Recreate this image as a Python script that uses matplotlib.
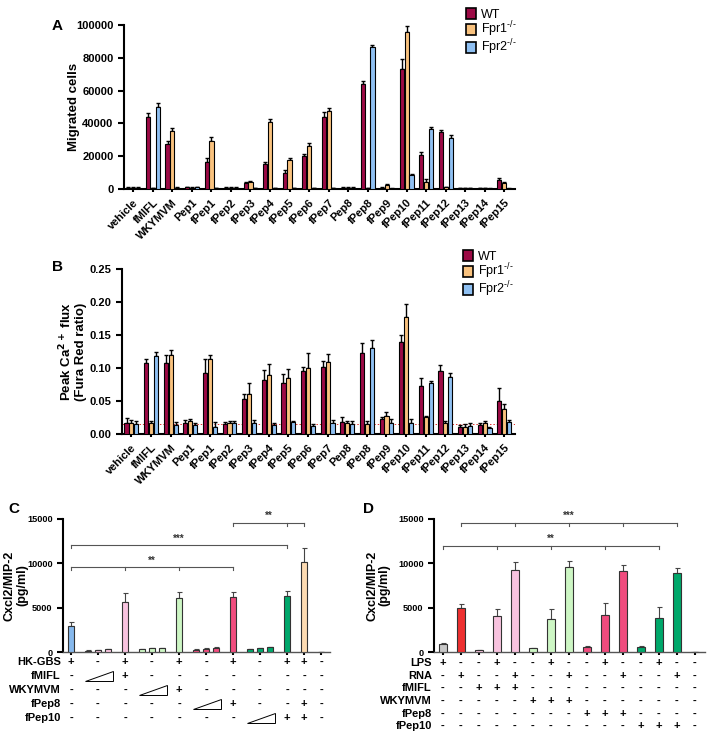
import matplotlib.pyplot as plt
import numpy as np
from matplotlib.patches import Patch, Polygon
from matplotlib.transforms import blended_transform_factory

plt.rcParams['font.family'] = ['Liberation Sans', 'DejaVu Sans']
plt.rcParams['font.weight'] = 'bold'
plt.rcParams['axes.labelweight'] = 'bold'
plt.rcParams['axes.linewidth'] = 1.5

# ---- data, panels A and B ----
peptides = ["vehicle", "fMIFL", "WKYMVM", "Pep1", "fPep1", "fPep2", "fPep3",
            "fPep4", "fPep5", "fPep6", "fPep7", "Pep8", "fPep8", "fPep9",
            "fPep10", "fPep11", "fPep12", "fPep13", "fPep14", "fPep15"]
genotypes = ["WT", "Fpr1$^{\\mathregular{\u2010/\u2010}}$",
             "Fpr2$^{\\mathregular{\u2010/\u2010}}$"]
geno_colors = ["#9c0a45", "#f9c27e", "#8fc0f2"]

mig_wt = [800, 44000, 27500, 1000, 16500, 800, 3800, 15500, 10000, 20000,
          44000, 800, 64000, 800, 73000, 21000, 34500, 700, 700, 5500]
mig_fpr1 = [800, 500, 35500, 800, 29500, 800, 4500, 41000, 17500, 26000,
            47500, 800, 500, 2500, 96000, 4500, 1000, 700, 500, 3500]
mig_fpr2 = [800, 50000, 800, 1000, 500, 800, 600, 500, 500, 700,
            700, 800, 86500, 300, 8500, 36500, 31000, 700, 300, 300]
mig_wt_err = [200, 2500, 2000, 300, 2500, 200, 500, 1000, 1800, 1500,
              2800, 200, 2000, 200, 6500, 1500, 1500, 200, 200, 1500]
mig_fpr1_err = [200, 200, 2000, 200, 2000, 200, 500, 1500, 1200, 2000,
                2000, 200, 200, 800, 3500, 1500, 300, 200, 200, 800]
mig_fpr2_err = [200, 2500, 200, 200, 200, 200, 200, 200, 200, 200,
                200, 200, 1500, 200, 800, 1500, 1800, 200, 200, 200]

ca_wt = [0.017, 0.108, 0.107, 0.017, 0.093, 0.015, 0.053, 0.082, 0.077, 0.095,
         0.101, 0.018, 0.122, 0.022, 0.140, 0.073, 0.096, 0.011, 0.013, 0.050]
ca_fpr1 = [0.017, 0.016, 0.119, 0.019, 0.113, 0.016, 0.061, 0.090, 0.085, 0.100,
           0.109, 0.016, 0.015, 0.027, 0.177, 0.025, 0.016, 0.011, 0.016, 0.038]
ca_fpr2 = [0.015, 0.118, 0.014, 0.014, 0.010, 0.016, 0.016, 0.013, 0.018, 0.012,
           0.016, 0.015, 0.130, 0.017, 0.017, 0.077, 0.087, 0.012, 0.009, 0.018]
ca_wt_err = [0.007, 0.005, 0.012, 0.004, 0.020, 0.003, 0.007, 0.015, 0.014, 0.007,
             0.009, 0.007, 0.016, 0.004, 0.010, 0.012, 0.008, 0.003, 0.003, 0.019]
ca_fpr1_err = [0.004, 0.004, 0.009, 0.004, 0.006, 0.004, 0.017, 0.016, 0.013, 0.023,
               0.012, 0.004, 0.004, 0.007, 0.020, 0.003, 0.004, 0.004, 0.004, 0.007]
ca_fpr2_err = [0.004, 0.006, 0.004, 0.003, 0.008, 0.004, 0.005, 0.004, 0.002, 0.003,
               0.005, 0.005, 0.012, 0.006, 0.005, 0.004, 0.005, 0.004, 0.002, 0.003]
ca_baseline = 0.015

# ---- data, panel C ----
# column kinds: "s" single bar, "t" three increasing doses
c_kinds = ["s", "t", "s", "t", "s", "t", "s", "t", "s", "s", "s"]
c_vals = [2900, 150, 200, 300, 5600, 350, 400, 450, 6100, 250, 350, 500,
          6200, 350, 450, 550, 6300, 10200, 30]
c_err = [450, 40, 40, 50, 1000, 40, 40, 50, 700, 40, 50, 60,
         550, 40, 50, 60, 550, 1500, 0]
c_colors = ["#86b8ec"] + ["#f8c3df"] * 4 + ["#cdf6c4"] * 4 + ["#f04c7e"] * 4 \
    + ["#00a86b"] * 4 + ["#fddbb2", "#ffffff"]
c_row_names = ["HK-GBS", "fMIFL", "WKYMVM", "fPep8", "fPep10"]
c_rows = [["+", "-", "+", "-", "+", "-", "+", "-", "+", "+", "-"],
          ["-", "w", "+", "-", "-", "-", "-", "-", "-", "-", "-"],
          ["-", "-", "-", "w", "+", "-", "-", "-", "-", "-", "-"],
          ["-", "-", "-", "-", "-", "w", "+", "-", "-", "+", "-"],
          ["-", "-", "-", "-", "-", "-", "-", "w", "+", "+", "-"]]
# brackets: bar indices, height, stars
c_brackets = [([0, 4, 8, 12], 9600, "**"),
              ([0, 16], 12100, "***"),
              ([12, 16, 17], 14600, "**")]

# ---- data, panel D ----
d_vals = [900, 5000, 200, 4100, 9200, 450, 3700, 9600, 600, 4200, 9100,
          600, 3800, 8900, 40]
d_err = [100, 400, 50, 800, 900, 50, 1100, 650, 50, 1350, 700, 50, 1300, 550, 0]
d_colors = ["#c8c8c8", "#ee3030"] + ["#f8c3df"] * 3 + ["#cdf6c4"] * 3 \
    + ["#f04c7e"] * 3 + ["#00a86b"] * 3 + ["#ffffff"]
d_row_names = ["LPS", "RNA", "fMIFL", "WKYMVM", "fPep8", "fPep10"]
d_rows = [list("+--+--+--+--+--"),
          list("-+--+--+--+--+-"),
          list("--+++----------"),
          list("-----+++-------"),
          list("--------+++----"),
          list("-----------+++-")]
d_brackets = [([0, 3, 6, 9, 12], 12000, "**"),
              ([1, 4, 7, 10, 13], 14600, "***")]

fig = plt.figure(figsize=(7.09, 7.34), dpi=100)


def style(ax):
    for s in ["top", "right"]:
        ax.spines[s].set_visible(False)
    ax.tick_params(width=1.5, length=4, labelsize=8)
    for t in ax.get_yticklabels():
        t.set_fontweight("bold")


def grouped(ax, vals, errs, ylim, ylabel):
    x = np.arange(len(peptides))
    for i in range(3):
        xi = x + (i - 1) * 0.25
        ax.bar(xi, vals[i], width=0.21, color=geno_colors[i],
               edgecolor="black", linewidth=0.8, zorder=3)
        ax.errorbar(xi, vals[i], yerr=[np.zeros(len(x)), errs[i]], fmt="none",
                    ecolor="black", elinewidth=1.0, capsize=1.5, capthick=1.0,
                    zorder=2)
    ax.set_xlim(-0.48, 19.55)
    ax.set_ylim(*ylim)
    ax.set_xticks(x)
    ax.set_xticklabels(peptides, rotation=45, ha="right", rotation_mode="anchor",
                       fontsize=8.2, fontweight="bold")
    ax.set_ylabel(ylabel, fontsize=9.5, fontweight="bold", linespacing=1.1)
    style(ax)
    ax.tick_params(axis="x", length=2.5)
    hs = [Patch(facecolor=c, edgecolor="black", linewidth=1.2) for c in geno_colors]
    return hs


def legend(hs, x, y):
    fig.legend(hs, genotypes, loc="upper left", bbox_to_anchor=(x / 709, 1 - y / 734),
               frameon=False, handlelength=0.75, handleheight=1.0, borderpad=0,
               handletextpad=0.4, labelspacing=-0.12,
               prop={"weight": "normal", "size": 9})


# panel A
axA = fig.add_axes([124 / 709, 1 - 189 / 734, 391 / 709, 164 / 734])
hs = grouped(axA, [mig_wt, mig_fpr1, mig_fpr2],
             [mig_wt_err, mig_fpr1_err, mig_fpr2_err], (0, 100000), "Migrated cells")
axA.set_yticks([0, 20000, 40000, 60000, 80000, 100000])
axA.yaxis.set_label_coords(-0.113, 0.5)
legend(hs, 460, 2)
fig.text(52 / 709, 1 - 26 / 734, "A", fontsize=11, fontweight="bold", va="center")

# panel B
axB = fig.add_axes([122 / 709, 1 - 434 / 734, 393 / 709, 165 / 734])
axB.axhline(ca_baseline, color="#e03030", linestyle=(0, (1.5, 2)), linewidth=0.7,
            zorder=1)
hs = grouped(axB, [ca_wt, ca_fpr1, ca_fpr2],
             [ca_wt_err, ca_fpr1_err, ca_fpr2_err], (0, 0.25),
             "Peak Ca$^{\\mathbf{2+}}$ flux\n(Fura Red ratio)")
axB.set_yticks([0, 0.05, 0.10, 0.15, 0.20, 0.25])
axB.set_yticklabels(["0.00", "0.05", "0.10", "0.15", "0.20", "0.25"],
                    fontweight="bold")
axB.yaxis.set_label_coords(-0.088, 0.5)
legend(hs, 457, 244)
fig.text(52 / 709, 1 - 267 / 734, "B", fontsize=11, fontweight="bold", va="center")


def signs(ax, cols, row_names, rows, y0, dy, wedges=None):
    tr = blended_transform_factory(ax.transData, ax.transAxes)
    trl = blended_transform_factory(ax.transAxes, ax.transAxes)
    for r, name in enumerate(row_names):
        y = y0 - r * dy
        ax.text(-0.008, y, name, transform=trl, ha="right", va="center",
                fontsize=8, fontweight="bold", clip_on=False)
        for c, s in enumerate(rows[r]):
            if s == "w":
                x1, x3 = wedges[c]
                tri = Polygon([(x1, y - 0.04), (x3, y - 0.04), (x3, y + 0.04)],
                              closed=True, facecolor="white", edgecolor="black",
                              linewidth=0.7, transform=tr, clip_on=False)
                ax.add_patch(tri)
            else:
                ax.text(cols[c], y, s, transform=tr, ha="center", va="center",
                        fontsize=8, fontweight="bold", clip_on=False)


def brackets(ax, xs, specs, tick):
    for idx, y, stars in specs:
        px = [xs[i] for i in idx]
        ax.plot([px[0], px[-1]], [y, y], color="#555555", linewidth=0.8,
                clip_on=False)
        for p in px:
            ax.plot([p, p], [y, y - tick], color="#555555", linewidth=0.8,
                    clip_on=False)
        ax.text((px[0] + px[-1]) / 2, y + 150, stars, ha="center", va="bottom",
                fontsize=7, fontweight="bold", color="#333333")


def cxcl_axis(ax, lx):
    ax.set_ylim(0, 15000)
    ax.set_yticks([0, 5000, 10000, 15000])
    ax.set_ylabel("Cxcl2/MIP-2\n(pg/ml)", fontsize=9, fontweight="bold",
                  linespacing=1.05)
    ax.yaxis.set_label_coords(lx, 0.5)
    style(ax)
    ax.tick_params(axis="y", labelsize=6.6)
    ax.tick_params(axis="x", length=2, labelbottom=False)
    ax.spines["bottom"].set_color("#555555")
    ax.spines["bottom"].set_linewidth(1.0)


# panel C: bar positions in pixel-like units, 17 between bars, 10 inside a dose set
c_x = []
c_cols = []
c_wedges = {}
pos = 0.0
for k, kind in enumerate(c_kinds):
    if k > 0:
        pos += 17
    if kind == "s":
        c_x.append(pos)
        c_cols.append(pos)
    else:
        trio = [pos, pos + 10, pos + 20]
        c_x.extend(trio)
        c_cols.append(pos + 10)
        c_wedges[k] = (pos - 3, pos + 25)
        pos += 20

axC = fig.add_axes([63 / 709, 1 - 652 / 734, 267 / 709, 133 / 734])
axC.bar(c_x, c_vals, width=6.5, color=c_colors, edgecolor="#333333",
        linewidth=0.8, zorder=3)
axC.errorbar(c_x, c_vals, yerr=[np.zeros(len(c_x)), c_err], fmt="none",
             ecolor="#444444", elinewidth=0.8, capsize=1.8, capthick=0.8, zorder=2)
axC.set_xlim(-8, 259)
axC.set_xticks(c_cols)
cxcl_axis(axC, -0.13)
brackets(axC, c_x, c_brackets, 350)
signs(axC, c_cols, c_row_names, c_rows, -0.075, 0.105, c_wedges)
fig.text(8 / 709, 1 - 509 / 734, "C", fontsize=11, fontweight="bold", va="center")

# panel D
d_x = np.arange(len(d_vals))
axD = fig.add_axes([434 / 709, 1 - 652 / 734, 271 / 709, 133 / 734])
axD.bar(d_x, d_vals, width=0.42, color=d_colors, edgecolor="#333333",
        linewidth=0.8, zorder=3)
axD.errorbar(d_x, d_vals, yerr=[np.zeros(len(d_x)), d_err], fmt="none",
             ecolor="#444444", elinewidth=0.8, capsize=1.8, capthick=0.8, zorder=2)
axD.set_xlim(-0.5, 14.56)
axD.set_xticks(d_x)
cxcl_axis(axD, -0.16)
brackets(axD, d_x, d_brackets, 350)
signs(axD, d_x, d_row_names, d_rows, -0.083, 0.095)
fig.text(363 / 709, 1 - 509 / 734, "D", fontsize=11, fontweight="bold", va="center")

fig.savefig("out.png", dpi=100)
